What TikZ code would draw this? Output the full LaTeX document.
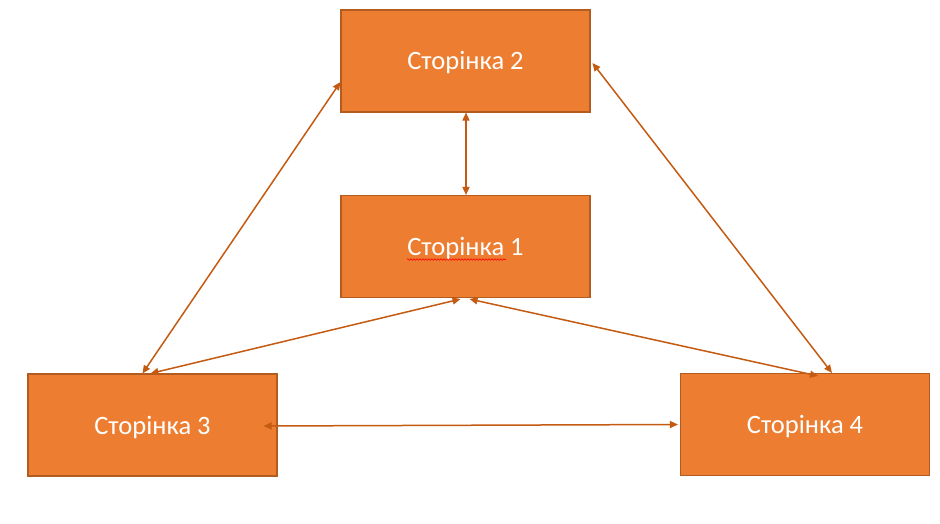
\documentclass[tikz,border=0pt]{standalone}
\usepackage{fontspec}
\setmainfont{Carlito}
\usetikzlibrary{arrows.meta,decorations.pathmorphing}
\definecolor{boxfill}{HTML}{ED7D31}
\definecolor{boxline}{HTML}{B35C20}
\definecolor{arrowc}{HTML}{C55A11}
\begin{document}
\begin{tikzpicture}[x=1pt,y=-1pt,
  page/.style={draw=boxline,line width=1.1pt,fill=boxfill,minimum width=249pt,minimum height=102pt,inner sep=0pt,text height=18pt,text depth=0pt,text=white,font=\fontsize{26.5}{30}\selectfont},
  link/.style={draw=arrowc,line width=1.5pt,{Triangle[length=8pt,width=7pt]}-{Triangle[length=8pt,width=7pt]}}]
\fill[white] (0,0) rectangle (940,524);
\useasboundingbox (0,0) rectangle (940,524);
\node[page] (b2) at (465.5,61) {Сторінка 2};
\node[page] (b1) at (465.5,246.5) {Сторінка 1};
\node[page] (b3) at (152.5,425) {Сторінка 3};
\node[page] (b4) at (805,424.5) {Сторінка 4};
\draw[link] ([xshift=0.5pt]b2.south) -- ([xshift=0.5pt]b1.north);
\draw[link] ([yshift=-21pt]b2.west) -- ([xshift=-10pt]b3.north);
\draw[link] ([xshift=2pt,yshift=-2pt]b2.east) -- ([xshift=27pt]b4.north);
\draw[link] ([xshift=-5pt,yshift=-1pt]b1.south) -- ([xshift=-2pt]b3.north);
\draw[link] ([xshift=4pt,yshift=-1pt]b1.south) -- ([xshift=13pt,yshift=-3pt]b4.north);
\draw[link] ([xshift=-14pt,yshift=-1pt]b3.east) -- ([xshift=-2pt]b4.west);
\coordinate (w1) at (407,259.5);
\coordinate (w2) at (506,259.5);
\draw[red,line width=0.6pt,decorate,decoration={snake,amplitude=0.8pt,segment length=3pt}] (w1) -- (w2);
\end{tikzpicture}
\end{document}
